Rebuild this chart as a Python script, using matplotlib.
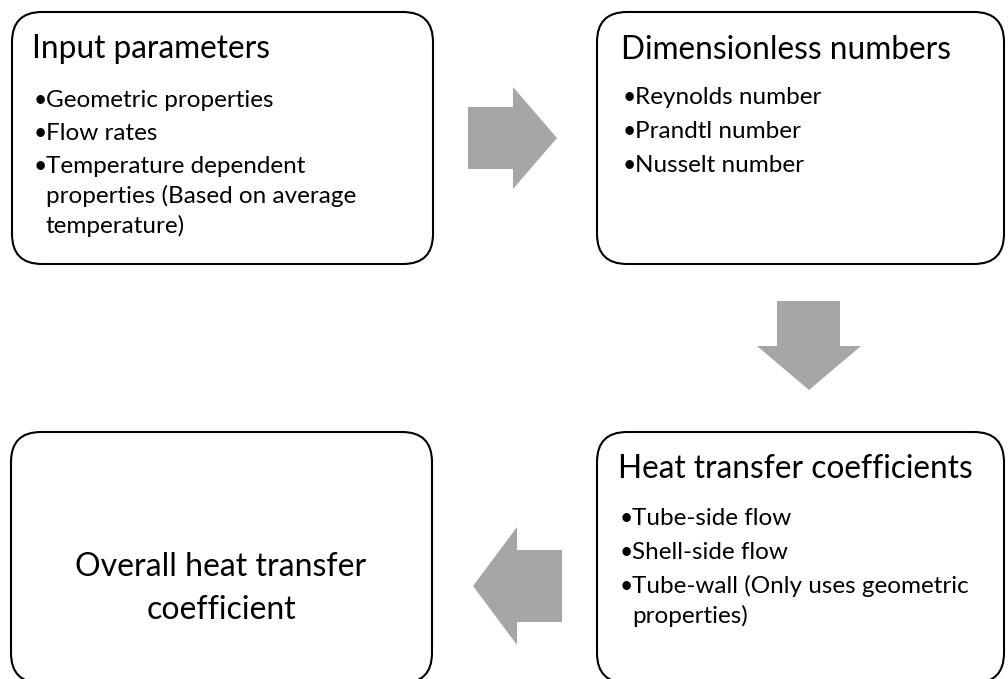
import matplotlib
matplotlib.use("Agg")
import matplotlib.pyplot as plt
from matplotlib.patches import FancyBboxPatch, Polygon

# ---- content ----
titles = ["Input parameters", "Dimensionless numbers", "Heat transfer coefficients"]
bullets_input = ["Geometric properties", "Flow rates",
                 "Temperature dependent\nproperties (Based on average\ntemperature)"]
bullets_dimless = ["Reynolds number", "Prandtl number", "Nusselt number"]
bullets_htc = ["Tube-side flow", "Shell-side flow",
               "Tube-wall (Only uses geometric\nproperties)"]
final_label = "Overall heat transfer\ncoefficient"

FONT = "Lato"
BOX_EC = "black"
ARROW_C = "#a6a6a6"

W, H = 1008, 679
fig = plt.figure(figsize=(W / 100, H / 100), dpi=100)
ax = fig.add_axes([0, 0, 1, 1])
ax.set_xlim(0, W)
ax.set_ylim(H, 0)
ax.axis("off")

def box(x0, y0, x1, y1):
    p = FancyBboxPatch((x0, y0), x1 - x0, y1 - y0,
                       boxstyle="round,pad=0,rounding_size=30",
                       fc="white", ec=BOX_EC, lw=1.5, clip_on=False)
    ax.add_patch(p)

box(12, 12, 433, 264)
box(597, 12, 1004, 264)
box(597, 432, 1004, 683)
box(11, 432, 432, 683)

def arrow(pts):
    ax.add_patch(Polygon(pts, closed=True, fc=ARROW_C, ec="none"))

# right arrow
arrow([(468, 107), (513, 107), (513, 87), (557, 138), (513, 189), (513, 169), (468, 169)])
# down arrow
arrow([(777, 301), (840, 301), (840, 346), (861, 346), (809, 390), (757, 346), (777, 346)])
# left arrow
arrow([(562, 550), (517, 550), (517, 527), (473, 586), (517, 645), (517, 622), (562, 622)])

TS = 22.8
BS = 17.5
LH = 30

def block(x, title_y, title, items, first_y, gap):
    ax.text(x, title_y, title, fontsize=TS, family=FONT, va="baseline", ha="left")
    y = first_y
    for it in items:
        lines = it.split("\n")
        ax.text(x + 2, y, "\u2022", fontsize=BS - 1, family=FONT, va="baseline", ha="left")
        for k, ln in enumerate(lines):
            ax.text(x + 14, y + k * LH, ln, fontsize=BS, family=FONT,
                    va="baseline", ha="left")
        y += (len(lines) - 1) * LH + gap

block(32, 58, titles[0], bullets_input, 107, 33)
block(621, 59, titles[1], bullets_dimless, 104, 34)
block(618, 478, titles[2], bullets_htc, 525, 34)

ax.text(221, 576, final_label.split("\n")[0], fontsize=23, family=FONT,
        ha="center", va="baseline")
ax.text(221, 619, final_label.split("\n")[1], fontsize=23, family=FONT,
        ha="center", va="baseline")

fig.savefig("out.png", dpi=100, facecolor="white")
